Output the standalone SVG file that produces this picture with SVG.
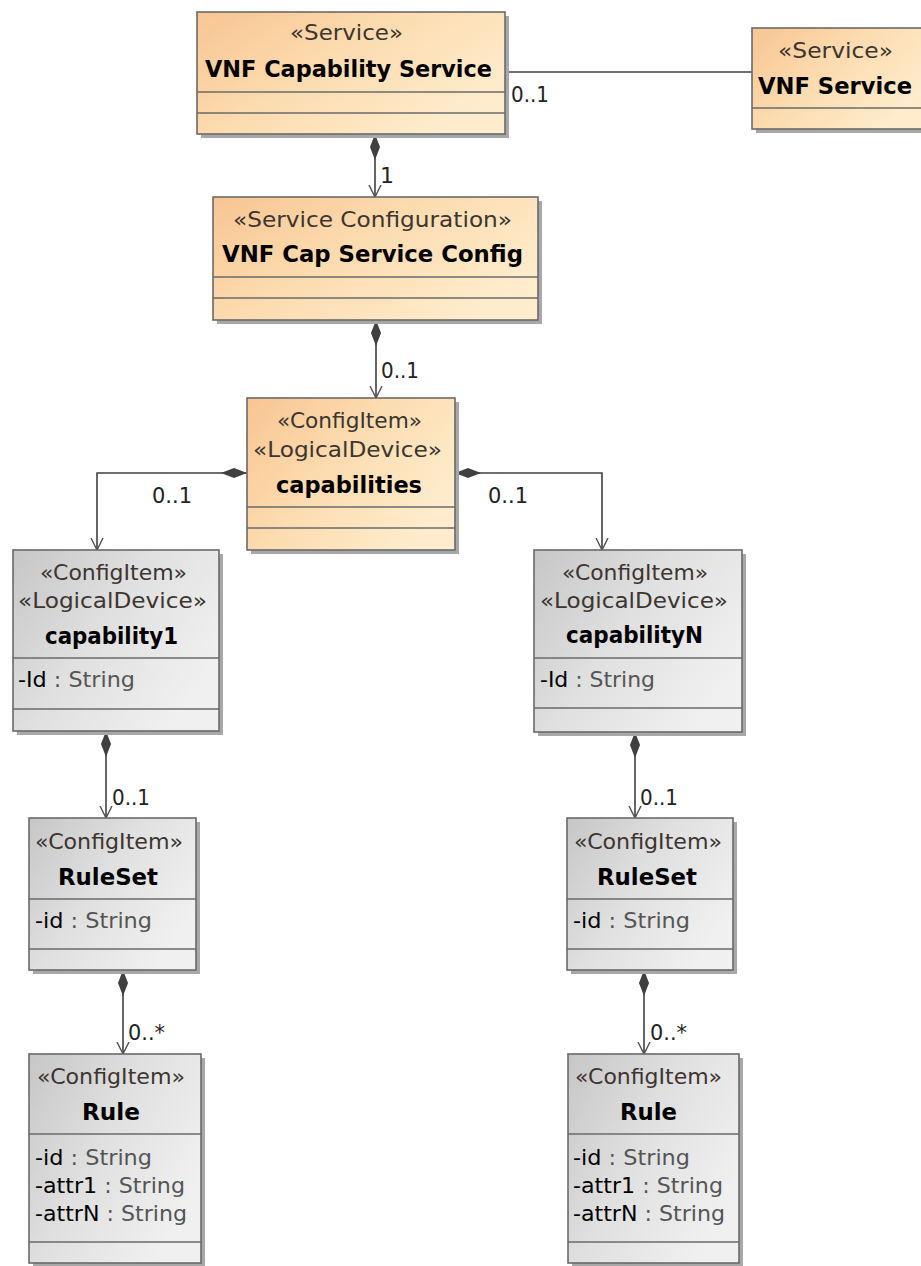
<svg xmlns="http://www.w3.org/2000/svg" width="921" height="1266" viewBox="0 0 921 1266">
<defs>
<linearGradient id="gOr" x1="0" y1="0" x2="1" y2="0.6">
<stop offset="0" stop-color="#f8c592"/>
<stop offset="0.5" stop-color="#fcdcb0"/>
<stop offset="1" stop-color="#feeccc"/>
</linearGradient>
<linearGradient id="gGr" x1="0" y1="0" x2="1" y2="0.6">
<stop offset="0" stop-color="#c6c6c6"/>
<stop offset="0.5" stop-color="#e0e0e0"/>
<stop offset="1" stop-color="#f0f0f0"/>
</linearGradient>
<marker id="dia" viewBox="0 0 26 10" refX="0" refY="5" markerWidth="26" markerHeight="10" markerUnits="userSpaceOnUse" orient="auto">
<path d="M0,5 L13,0 L26,5 L13,10 Z" fill="#404040"/>
</marker>
<marker id="arr" viewBox="0 0 12 14" refX="12" refY="7" markerWidth="12" markerHeight="14" markerUnits="userSpaceOnUse" orient="auto">
<path d="M0,1 L12,7 L0,13" fill="none" stroke="#505050" stroke-width="1.4"/>
</marker>
</defs>
<style>
.sh{fill:#a8a8a8;}
.bo{stroke:#6a6a6a;stroke-width:1.6;fill:url(#gOr);}
.bg{stroke:#6a6a6a;stroke-width:1.6;fill:url(#gGr);}
.dv{stroke:#6a6a6a;stroke-width:1.4;}
.st{font-family:"DejaVu Sans",Verdana,sans-serif;font-size:22px;fill:#3c3530;}
.nm{font-family:"DejaVu Sans",Verdana,sans-serif;font-size:23px;font-weight:bold;fill:#000;}
.at{font-family:"DejaVu Sans",Verdana,sans-serif;font-size:22px;fill:#000;}
.ty{fill:#555;}
.lb{font-family:"DejaVu Sans",Verdana,sans-serif;font-size:22px;fill:#222;}
.cn{stroke:#404040;stroke-width:1.6;fill:none;}
</style>
<rect width="921" height="1266" fill="#fff"/>

<g id="connectors">
<path class="cn" d="M505,72 L752,72"/>
<path class="cn" d="M375,134 L375,197" marker-start="url(#dia)" marker-end="url(#arr)"/>
<path class="cn" d="M376,320 L376,398" marker-start="url(#dia)" marker-end="url(#arr)"/>
<path class="cn" d="M247,473 L97,473 L97,550" marker-start="url(#dia)" marker-end="url(#arr)"/>
<path class="cn" d="M455,473 L602,473 L602,550" marker-start="url(#dia)" marker-end="url(#arr)"/>
<path class="cn" d="M106,731 L106,818" marker-start="url(#dia)" marker-end="url(#arr)"/>
<path class="cn" d="M635,732 L635,818" marker-start="url(#dia)" marker-end="url(#arr)"/>
<path class="cn" d="M123,970 L123,1054" marker-start="url(#dia)" marker-end="url(#arr)"/>
<path class="cn" d="M644,970 L644,1054" marker-start="url(#dia)" marker-end="url(#arr)"/>
<text class="lb" x="511" y="102" textLength="38" lengthAdjust="spacingAndGlyphs">0..1</text>
<text class="lb" x="380" y="183">1</text>
<text class="lb" x="381" y="378" textLength="38" lengthAdjust="spacingAndGlyphs">0..1</text>
<text class="lb" x="152" y="503" textLength="40" lengthAdjust="spacingAndGlyphs">0..1</text>
<text class="lb" x="488" y="503" textLength="40" lengthAdjust="spacingAndGlyphs">0..1</text>
<text class="lb" x="112" y="805" textLength="38" lengthAdjust="spacingAndGlyphs">0..1</text>
<text class="lb" x="640" y="805" textLength="38" lengthAdjust="spacingAndGlyphs">0..1</text>
<text class="lb" x="128" y="1040" textLength="37" lengthAdjust="spacingAndGlyphs">0..*</text>
<text class="lb" x="650" y="1040" textLength="37" lengthAdjust="spacingAndGlyphs">0..*</text>
</g>

<g id="vnfCapabilityService">
<rect class="sh" x="201" y="16" width="308" height="122"/>
<rect class="bo" x="197" y="12" width="308" height="122"/>
<line class="dv" x1="197" y1="92" x2="505" y2="92"/>
<line class="dv" x1="197" y1="113" x2="505" y2="113"/>
<text class="st" x="290" y="40" textLength="113" lengthAdjust="spacingAndGlyphs">«Service»</text>
<text class="nm" x="205" y="77" textLength="287" lengthAdjust="spacingAndGlyphs">VNF Capability Service</text>
</g>

<g id="vnfService">
<rect class="sh" x="756" y="32" width="175" height="101"/>
<rect class="bo" x="752" y="28" width="175" height="101"/>
<line class="dv" x1="752" y1="108" x2="927" y2="108"/>
<text class="st" x="778" y="58" textLength="115" lengthAdjust="spacingAndGlyphs">«Service»</text>
<text class="nm" x="758" y="94" textLength="154" lengthAdjust="spacingAndGlyphs">VNF Service</text>
</g>

<g id="vnfCapServiceConfig">
<rect class="sh" x="217" y="201" width="325" height="123"/>
<rect class="bo" x="213" y="197" width="325" height="123"/>
<line class="dv" x1="213" y1="277" x2="538" y2="277"/>
<line class="dv" x1="213" y1="298" x2="538" y2="298"/>
<text class="st" x="233" y="227" textLength="279" lengthAdjust="spacingAndGlyphs">«Service Configuration»</text>
<text class="nm" x="222" y="262" textLength="301" lengthAdjust="spacingAndGlyphs">VNF Cap Service Config</text>
</g>

<g id="capabilities">
<rect class="sh" x="251" y="402" width="208" height="152"/>
<rect class="bo" x="247" y="398" width="208" height="152"/>
<line class="dv" x1="247" y1="507" x2="455" y2="507"/>
<line class="dv" x1="247" y1="528" x2="455" y2="528"/>
<text class="st" x="277" y="428" textLength="145" lengthAdjust="spacingAndGlyphs">«ConfigItem»</text>
<text class="st" x="253" y="457" textLength="189" lengthAdjust="spacingAndGlyphs">«LogicalDevice»</text>
<text class="nm" x="276" y="493" textLength="146" lengthAdjust="spacingAndGlyphs">capabilities</text>
</g>

<g id="capability1">
<rect class="sh" x="17" y="554" width="206" height="181"/>
<rect class="bg" x="13" y="550" width="206" height="181"/>
<line class="dv" x1="13" y1="658" x2="219" y2="658"/>
<line class="dv" x1="13" y1="709" x2="219" y2="709"/>
<text class="st" x="40" y="580" textLength="147" lengthAdjust="spacingAndGlyphs">«ConfigItem»</text>
<text class="st" x="18" y="608" textLength="189" lengthAdjust="spacingAndGlyphs">«LogicalDevice»</text>
<text class="nm" x="45" y="644" textLength="133" lengthAdjust="spacingAndGlyphs">capability1</text>
<text class="at" x="18" y="687" textLength="117" lengthAdjust="spacingAndGlyphs">-Id<tspan class="ty"> : String</tspan></text>
</g>

<g id="capabilityN">
<rect class="sh" x="538" y="554" width="208" height="182"/>
<rect class="bg" x="534" y="550" width="208" height="182"/>
<line class="dv" x1="534" y1="658" x2="742" y2="658"/>
<line class="dv" x1="534" y1="708" x2="742" y2="708"/>
<text class="st" x="562" y="580" textLength="146" lengthAdjust="spacingAndGlyphs">«ConfigItem»</text>
<text class="st" x="540" y="608" textLength="188" lengthAdjust="spacingAndGlyphs">«LogicalDevice»</text>
<text class="nm" x="566" y="643" textLength="137" lengthAdjust="spacingAndGlyphs">capabilityN</text>
<text class="at" x="540" y="687" textLength="115" lengthAdjust="spacingAndGlyphs">-Id<tspan class="ty"> : String</tspan></text>
</g>

<g id="ruleSet1">
<rect class="sh" x="33" y="822" width="167" height="152"/>
<rect class="bg" x="29" y="818" width="167" height="152"/>
<line class="dv" x1="29" y1="899" x2="196" y2="899"/>
<line class="dv" x1="29" y1="949" x2="196" y2="949"/>
<text class="st" x="35" y="849" textLength="148" lengthAdjust="spacingAndGlyphs">«ConfigItem»</text>
<text class="nm" x="58" y="885" textLength="100" lengthAdjust="spacingAndGlyphs">RuleSet</text>
<text class="at" x="35" y="928" textLength="117" lengthAdjust="spacingAndGlyphs">-id<tspan class="ty"> : String</tspan></text>
</g>

<g id="ruleSetN">
<rect class="sh" x="571" y="822" width="166" height="152"/>
<rect class="bg" x="567" y="818" width="166" height="152"/>
<line class="dv" x1="567" y1="899" x2="733" y2="899"/>
<line class="dv" x1="567" y1="949" x2="733" y2="949"/>
<text class="st" x="574" y="849" textLength="148" lengthAdjust="spacingAndGlyphs">«ConfigItem»</text>
<text class="nm" x="597" y="885" textLength="100" lengthAdjust="spacingAndGlyphs">RuleSet</text>
<text class="at" x="573" y="928" textLength="117" lengthAdjust="spacingAndGlyphs">-id<tspan class="ty"> : String</tspan></text>
</g>

<g id="rule1">
<rect class="sh" x="33" y="1058" width="172" height="209"/>
<rect class="bg" x="29" y="1054" width="172" height="209"/>
<line class="dv" x1="29" y1="1134" x2="201" y2="1134"/>
<line class="dv" x1="29" y1="1242" x2="201" y2="1242"/>
<text class="st" x="37" y="1084" textLength="148" lengthAdjust="spacingAndGlyphs">«ConfigItem»</text>
<text class="nm" x="82" y="1120" textLength="58" lengthAdjust="spacingAndGlyphs">Rule</text>
<text class="at" x="35" y="1165" textLength="117" lengthAdjust="spacingAndGlyphs">-id<tspan class="ty"> : String</tspan></text>
<text class="at" x="35" y="1193" textLength="150" lengthAdjust="spacingAndGlyphs">-attr1<tspan class="ty"> : String</tspan></text>
<text class="at" x="35" y="1221" textLength="152" lengthAdjust="spacingAndGlyphs">-attrN<tspan class="ty"> : String</tspan></text>
</g>

<g id="ruleN">
<rect class="sh" x="572" y="1058" width="171" height="209"/>
<rect class="bg" x="568" y="1054" width="171" height="209"/>
<line class="dv" x1="568" y1="1134" x2="739" y2="1134"/>
<line class="dv" x1="568" y1="1242" x2="739" y2="1242"/>
<text class="st" x="575" y="1084" textLength="147" lengthAdjust="spacingAndGlyphs">«ConfigItem»</text>
<text class="nm" x="620" y="1120" textLength="57" lengthAdjust="spacingAndGlyphs">Rule</text>
<text class="at" x="573" y="1165" textLength="117" lengthAdjust="spacingAndGlyphs">-id<tspan class="ty"> : String</tspan></text>
<text class="at" x="573" y="1193" textLength="150" lengthAdjust="spacingAndGlyphs">-attr1<tspan class="ty"> : String</tspan></text>
<text class="at" x="573" y="1221" textLength="152" lengthAdjust="spacingAndGlyphs">-attrN<tspan class="ty"> : String</tspan></text>
</g>
</svg>
